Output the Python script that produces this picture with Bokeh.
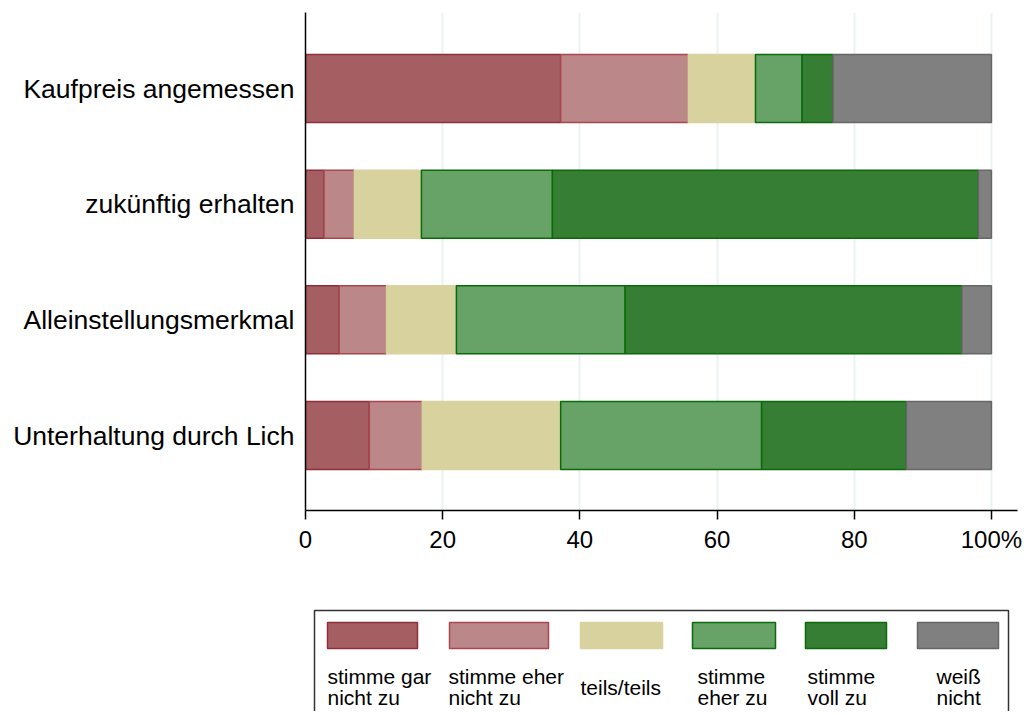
from bokeh.plotting import figure
from bokeh.layouts import column
from bokeh.models import Range1d, FixedTicker, ColumnDataSource
from bokeh.embed import file_html
from bokeh.resources import INLINE
from bokeh.core.properties import value

# ---- data ----
categories = ["Kaufpreis angemessen", "zukünftig erhalten",
              "Alleinstellungsmerkmal", "Unterhaltung durch Lich"]
series_names = ["stimme gar nicht zu", "stimme eher nicht zu", "teils/teils",
                "stimme eher zu", "stimme voll zu", "weiß nicht"]
gar_nicht = [37.2, 2.7, 4.9, 9.3]
eher_nicht = [18.6, 4.4, 6.9, 7.7]
teils = [9.8, 9.8, 10.2, 20.2]
eher_zu = [6.8, 19.1, 24.6, 29.3]
voll_zu = [4.5, 62.1, 49.1, 21.1]
weiss = [23.1, 1.9, 4.3, 12.4]
x_ticks = [0, 20, 40, 60, 80, 100]
x_tick_labels = ["0", "20", "40", "60", "80", "100%"]
legend_line1 = ["stimme gar", "stimme eher", "", "stimme", "stimme", "weiß"]
legend_line2 = ["nicht zu", "nicht zu", "", "eher zu", "voll zu", "nicht"]
legend_single = ["", "", "teils/teils", "", "", ""]

# ---- styles ----
fills = ["#A55F62", "#BC8788", "#D8D29F", "#67A266", "#367E33", "#808080"]
lines = ["#8E2E38", "#A8474F", "#D8D29F", "#0B6B0B", "#0A6A0A", "#666666"]
FONT = "Liberation Sans"

W = 1024
FL, FR = 305, 1017  # frame left/right in page pixels

series = [gar_nicht, eher_nicht, teils, eher_zu, voll_zu, weiss]
n = len(categories)
ypos = [n - i for i in range(n)]

p = figure(width=W, height=575, output_backend="svg", toolbar_location=None,
           x_range=Range1d(0, 103.8), y_range=Range1d(0.352, 4.657),
           min_border_left=FL, min_border_right=W - FR, min_border_top=12,
           min_border_bottom=65)
p.outline_line_color = None
p.ygrid.visible = False
p.xgrid.ticker = FixedTicker(ticks=x_ticks[1:])
p.xgrid.grid_line_color = "#EAF2F3"
p.xgrid.grid_line_width = 2

left = [0.0] * n
for k, vals in enumerate(series):
    right = [l + v for l, v in zip(left, vals)]
    src = ColumnDataSource(dict(y=ypos, left=left, right=right))
    p.hbar(y="y", left="left", right="right", height=0.588, source=src,
           fill_color=fills[k], line_color=lines[k], line_width=1.5)
    left = right

# x axis
xa = p.xaxis[0]
xa.ticker = FixedTicker(ticks=x_ticks)
xa.major_label_overrides = {t: lab for t, lab in zip(x_ticks, x_tick_labels)}
xa.minor_tick_line_color = None
xa.major_tick_out = 9
xa.major_tick_in = 0
xa.major_tick_line_width = 1.5
xa.axis_line_width = 1.5
xa.major_label_standoff = 6
xa.major_label_text_font = FONT
xa.major_label_text_font_size = "24px"
xa.major_label_text_color = "black"

# y axis
ya = p.yaxis[0]
ya.ticker = FixedTicker(ticks=ypos)
ya.major_label_overrides = {y: c for y, c in zip(ypos, categories)}
ya.minor_tick_line_color = None
ya.major_tick_line_color = None
ya.major_tick_out = 0
ya.major_tick_in = 0
ya.axis_line_width = 1.5
ya.major_label_standoff = 11
ya.major_label_text_font = FONT
ya.major_label_text_font_size = "26.5px"
ya.major_label_text_color = "black"

# ---- legend figure (coordinates in page pixels, frame aligned with chart) ----
LH = 136
lg = figure(width=W, height=LH, output_backend="svg", toolbar_location=None,
            x_range=Range1d(FL, FR), y_range=Range1d(575 + LH, 575),
            min_border_left=FL, min_border_right=W - FR, min_border_top=0,
            min_border_bottom=0, x_axis_location=None, y_axis_location=None)
lg.outline_line_color = None
lg.grid.visible = False

lg.quad(left=[314], right=[1008], top=[610], bottom=[760], fill_color=None,
        line_color="#333333", line_width=1.5)

sw_left = [327, 449, 580, 692, 805, 917]
sw_right = [417, 548, 662, 775, 886, 998]
txt_x = [327, 448, 580, 697, 807, 936]
lg.quad(left=sw_left, right=sw_right, top=[622] * 6, bottom=[648] * 6,
        fill_color=fills, line_color=lines, line_width=1.5)
lg.text(x=txt_x, y=[676] * 6, text=legend_line1, text_font=value(FONT),
        text_font_size="21px", text_color="black", text_baseline="middle")
lg.text(x=txt_x, y=[697] * 6, text=legend_line2, text_font=value(FONT),
        text_font_size="21px", text_color="black", text_baseline="middle")
lg.text(x=txt_x, y=[687] * 6, text=legend_single, text_font=value(FONT),
        text_font_size="21px", text_color="black", text_baseline="middle")

layout = column(p, lg, spacing=0)
open("out.html", "w").write(file_html(layout, INLINE))
